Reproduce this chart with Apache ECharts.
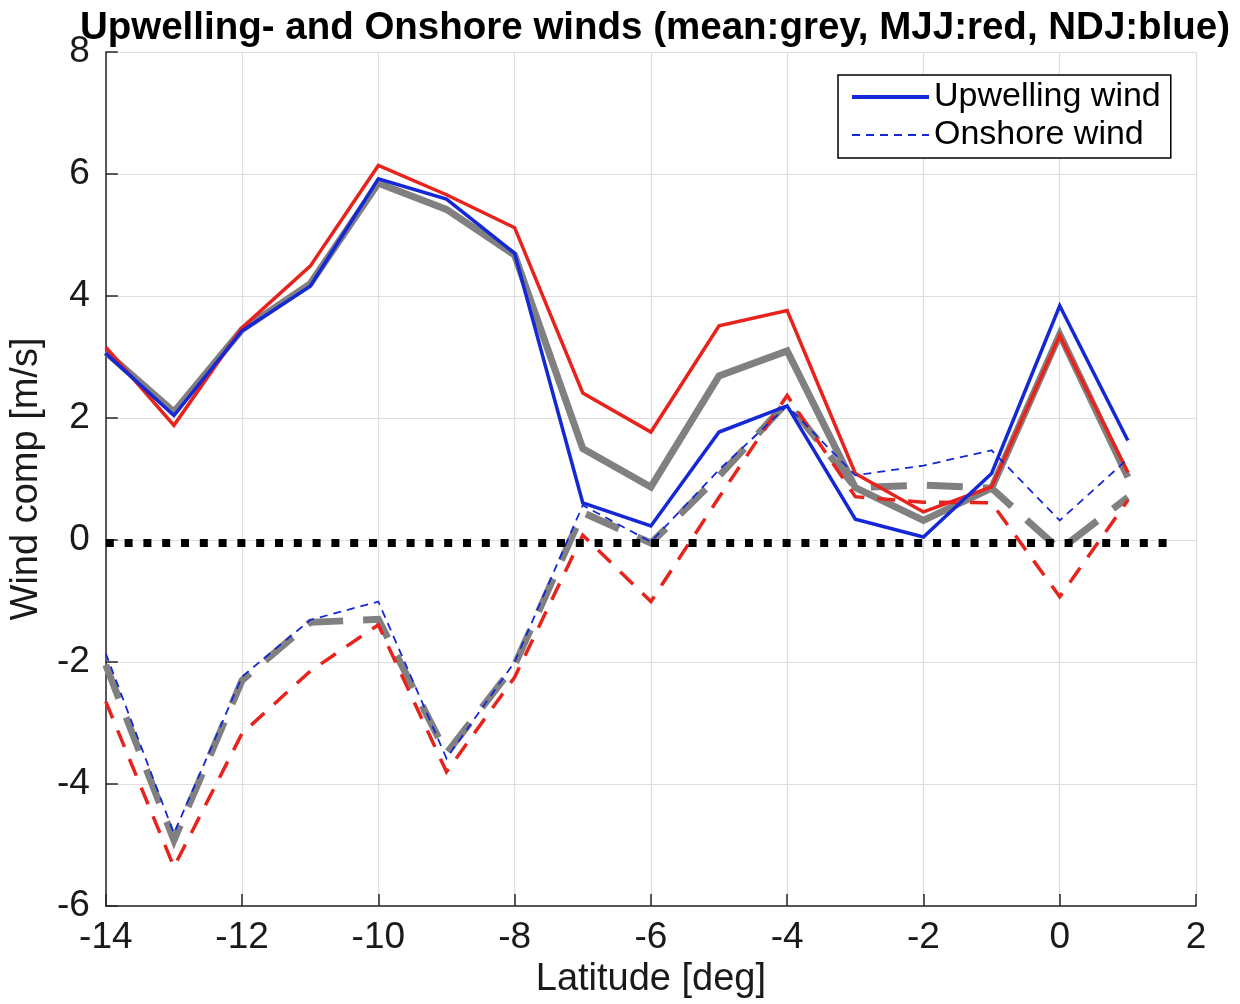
<!DOCTYPE html>
<html>
<head>
<meta charset="utf-8">
<script src="https://cdn.jsdelivr.net/npm/echarts@6/dist/echarts.min.js"></script>
<style>
html,body{margin:0;padding:0;background:#fff;}
#chart{width:1240px;height:1004px;}
</style>
</head>
<body>
<div id="chart"></div>
<script>
// Latitude (deg)
const latitude = [-14, -13, -12, -11, -10, -9, -8, -7, -6, -5, -4, -3, -2, -1, 0, 1];

// Upwelling wind component (m/s)
const upwellingMean = [3.08, 2.10, 3.45, 4.20, 5.85, 5.42, 4.67, 1.50, 0.87, 2.69, 3.10, 0.86, 0.32, 0.85, 3.37, 1.03];
const upwellingMJJ  = [3.16, 1.88, 3.48, 4.49, 6.14, 5.66, 5.12, 2.41, 1.77, 3.51, 3.76, 1.09, 0.46, 0.87, 3.35, 1.11];
const upwellingNDJ  = [3.06, 2.04, 3.43, 4.16, 5.92, 5.59, 4.70, 0.61, 0.23, 1.77, 2.20, 0.34, 0.05, 1.09, 3.84, 1.63];

// Onshore wind component (m/s)
const onshoreMean = [-2.05, -4.92, -2.30, -1.35, -1.30, -3.50, -2.05, 0.45, -0.05, 1.05, 2.26, 0.86, 0.90, 0.85, -0.16, 0.70];
const onshoreMJJ  = [-2.65, -5.36, -3.17, -2.15, -1.39, -3.80, -2.25, 0.08, -1.01, 0.70, 2.37, 0.71, 0.62, 0.61, -0.93, 0.65];
const onshoreNDJ  = [-1.86, -4.81, -2.24, -1.31, -1.01, -3.58, -2.00, 0.57, -0.03, 1.15, 2.20, 1.06, 1.22, 1.47, 0.32, 1.33];

// Reference (zero) line
const zeroLineX = [-14, 1.67];
const zeroLineY = [-0.05, -0.05];

// Axis ticks
const xTicks = [-14, -12, -10, -8, -6, -4, -2, 0, 2];
const yTicks = [-6, -4, -2, 0, 2, 4, 6, 8];

const titleText = 'Upwelling- and Onshore winds (mean:grey, MJJ:red, NDJ:blue)';
const xName = 'Latitude [deg]';
const yName = 'Wind comp [m/s]';
const legendNames = ['Upwelling wind', 'Onshore wind'];

const GREY = '#808080', RED = '#e8231c', BLUE = '#1428d6';
const FONT = 'Liberation Sans, Arial, Helvetica, sans-serif';

function pairs(xs, ys) { return xs.map((x, i) => [x, ys[i]]); }

function lineSeries(name, xs, ys, color, width, type, z) {
  return {
    name: name,
    type: 'line',
    data: pairs(xs, ys),
    symbol: 'none',
    silent: true,
    z: z,
    lineStyle: { color: color, width: width, type: type, cap: 'butt', join: 'miter' },
    itemStyle: { color: color },
    emphasis: { disabled: true },
    animation: false
  };
}

const chart = echarts.init(document.getElementById('chart'), null, { renderer: 'canvas' });
chart.setOption({
  backgroundColor: '#ffffff',
  animation: false,
  title: {
    text: titleText,
    left: 650,
    textAlign: 'center',
    top: 4,
    textStyle: { fontFamily: FONT, fontSize: 38.5, fontWeight: 'bold', color: '#000' }
  },
  legend: {
    data: [
      { name: legendNames[0], lineStyle: { width: 4 } },
      { name: legendNames[1], lineStyle: { width: 2 } }
    ],
    orient: 'vertical',
    left: 838,
    top: 75,
    itemWidth: 77,
    itemHeight: 30,
    itemGap: 4,
    padding: [5, 10, 6, 12],
    borderColor: '#000',
    borderWidth: 1.5,
    backgroundColor: '#fff',
    selectedMode: false,
    itemStyle: { opacity: 0 },
    textStyle: { fontFamily: FONT, fontSize: 34, color: '#000' }
  },
  grid: { left: 104, right: 44, top: 52, bottom: 95, containLabel: false },
  xAxis: {
    type: 'value',
    min: xTicks[0],
    max: xTicks[xTicks.length - 1],
    interval: 2,
    name: xName,
    nameLocation: 'middle',
    nameGap: 55,
    nameTextStyle: { fontFamily: FONT, fontSize: 38, color: '#1a1a1a' },
    axisLine: { onZero: false, lineStyle: { color: '#262626', width: 1.5 } },
    axisTick: { inside: true, length: 12, lineStyle: { color: '#262626', width: 1.5 } },
    axisLabel: { fontFamily: FONT, fontSize: 37, color: '#1a1a1a', margin: 13 },
    splitLine: { show: true, lineStyle: { color: '#dedede', width: 1.2 } }
  },
  yAxis: {
    type: 'value',
    min: yTicks[0],
    max: yTicks[yTicks.length - 1],
    interval: 2,
    name: yName,
    nameLocation: 'middle',
    nameGap: 55,
    nameTextStyle: { fontFamily: FONT, fontSize: 38, color: '#1a1a1a' },
    axisLine: { onZero: false, lineStyle: { color: '#262626', width: 1.5 } },
    axisTick: { inside: true, length: 12, lineStyle: { color: '#262626', width: 1.5 } },
    axisLabel: { fontFamily: FONT, fontSize: 37, color: '#1a1a1a', margin: 16 },
    splitLine: { show: true, lineStyle: { color: '#dedede', width: 1.2 } }
  },
  series: [
    lineSeries('mean upwelling', latitude, upwellingMean, GREY, 7, 'solid', 2),
    lineSeries('mean onshore', latitude, onshoreMean, GREY, 7, [36, 20], 2),
    lineSeries('MJJ upwelling', latitude, upwellingMJJ, RED, 3.5, 'solid', 3),
    lineSeries('MJJ onshore', latitude, onshoreMJJ, RED, 3.5, [18, 13], 3),
    lineSeries(legendNames[0], latitude, upwellingNDJ, BLUE, 3.5, 'solid', 4),
    lineSeries(legendNames[1], latitude, onshoreNDJ, BLUE, 1.8, [8, 6], 4),
    lineSeries('zero line', zeroLineX, zeroLineY, '#000', 8, [8, 10.8], 5)
  ]
});
</script>
</body>
</html>
